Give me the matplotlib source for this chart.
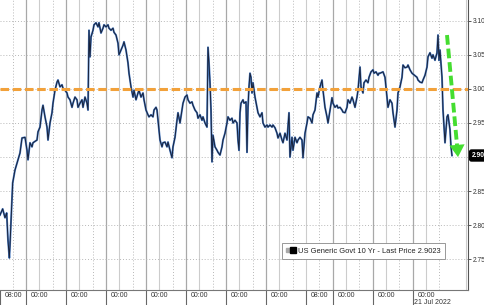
import matplotlib.pyplot as plt
from matplotlib.lines import Line2D
from matplotlib.legend_handler import HandlerTuple
from matplotlib import transforms

plt.rcParams['font.family'] = ['Liberation Sans', 'DejaVu Sans']

# chart time in hours since the first 08:00 (weekend gap squeezed out)
times = [
    0.4, 2.0, 3.4, 4.4, 5.2, 6.0, 6.4, 7.4, 8.0, 9.4, 11.2, 12.4, 13.6, 15.4,
    16.6, 17.2, 18.4, 19.6, 20.2, 22.6, 23.2, 24.4, 25.6, 26.2, 27.4, 28.6, 29.2, 30.4, 31.6, 32.2,
    33.4, 34.6, 35.2, 36.4, 37.6, 38.2, 39.4, 40.6, 41.2, 42.4, 43.6, 44.2, 45.4, 46.6, 47.2, 48.4, 49.6, 50.2, 51.4, 52.6, 53.2,
    53.8, 54.4, 55.0, 56.2, 56.8, 58.0, 59.2, 59.8, 61.0, 62.2, 62.8, 64.0, 65.2, 65.8, 67.0, 68.2, 68.8, 70.0,
    71.2, 71.8, 73.0, 74.2, 74.8, 76.0, 77.2, 77.8, 79.0, 80.2, 80.8, 82.0, 83.2, 83.8, 85.0, 86.2, 86.8, 88.0, 89.2, 89.8, 91.0, 92.2, 92.8, 94.0, 94.6, 95.2,
    96.4, 97.6, 98.2, 99.4, 100.6, 101.2, 102.4, 103.6, 104.2, 105.4, 106.6, 107.2, 108.4, 109.6, 110.2, 111.4, 112.6, 113.2, 114.4, 115.6, 116.2, 117.4, 118.6, 119.2, 120.4, 121.6, 122.2, 123.4, 124.6,
    125.2, 125.8, 126.4, 127.0, 127.6, 128.2, 129.4, 130.6, 131.2, 132.4, 133.6, 134.2, 135.4, 136.6, 137.2, 138.4, 139.6, 140.2, 141.4, 142.6, 143.2, 143.8,
    144.4, 145.0, 146.2, 146.8, 148.0, 148.6, 149.2, 149.8, 150.4, 151.0, 151.6, 152.2, 153.4, 154.6, 155.2, 156.4, 157.6, 158.2,
    159.4, 160.6, 161.2, 162.4, 163.6, 164.2, 165.4, 166.6, 167.2, 168.4, 169.6, 170.2, 171.4, 172.6, 173.2, 173.8, 174.4, 175.6, 176.2, 177.4, 178.6, 179.2, 180.4, 181.6, 182.2,
    183.4, 184.6, 185.2, 186.4, 187.6, 188.2, 189.4, 190.6, 191.2, 192.4, 193.6, 194.2, 195.4, 196.6, 197.2, 198.4, 199.6, 200.2,
    201.4, 202.6, 203.2, 204.4, 205.6, 206.2, 207.4, 208.6, 209.2, 210.4, 211.6, 212.2, 213.4, 214.6, 215.2,
    216.4, 217.0, 218.2, 218.8, 220.0, 221.2, 221.8, 223.0, 224.2, 224.8, 226.0, 227.2, 227.8, 228.4, 230.2, 231.4,
    232.6, 233.2, 234.4, 235.6, 236.2, 237.4, 238.6, 239.2, 240.4, 241.6, 242.2, 243.4, 244.6, 245.2, 246.4, 247.6,
    250.6, 251.2, 252.4, 253.6, 254.2, 255.4, 256.6, 257.2, 258.4, 259.6, 260.2, 261.4, 262.6, 263.2, 263.8, 264.4, 265.6, 266.2, 267.4, 268.6, 269.2, 270.4, 271.0, 271.6,
]
yields = [
    2.815, 2.824, 2.811, 2.818, 2.778, 2.752, 2.771, 2.827, 2.862, 2.881, 2.896, 2.906, 2.928, 2.929,
    2.910, 2.896, 2.921, 2.915, 2.921, 2.925, 2.937, 2.944, 2.969, 2.976, 2.959, 2.944, 2.925, 2.950, 2.965, 2.979,
    2.998, 3.010, 3.013, 3.003, 3.006, 3.001, 2.998, 2.994, 2.988, 2.984, 2.973, 2.979, 2.988, 2.984, 2.973, 2.979, 2.984, 2.973, 2.988, 2.979, 2.969,
    3.086, 3.047, 3.076, 3.086, 3.094, 3.097, 3.091, 3.097, 3.082, 3.089, 3.094, 3.091, 3.094, 3.089, 3.086, 3.089, 3.083, 3.079,
    3.067, 3.050, 3.057, 3.064, 3.069, 3.057, 3.038, 3.023, 3.003, 2.988, 2.998, 2.984, 2.994, 2.998, 2.988, 2.994, 2.984, 2.969, 2.962, 2.959, 2.962, 2.959, 2.969, 2.973, 2.969, 2.954,
    2.925, 2.915, 2.921, 2.922, 2.915, 2.922, 2.910, 2.899, 2.915, 2.929, 2.954, 2.965, 2.950, 2.969, 2.979, 2.988, 2.991, 2.984, 2.979, 2.981, 2.976, 2.969, 2.965, 2.957, 2.962, 2.954, 2.959, 2.950, 2.944,
    3.061, 3.038, 3.009, 2.969, 2.893, 2.932, 2.915, 2.910, 2.907, 2.903, 2.915, 2.925, 2.935, 2.950, 2.959, 2.954, 2.957, 2.950, 2.954, 2.950, 2.925, 2.910,
    2.965, 2.979, 2.984, 2.979, 2.981, 2.907, 2.973, 3.003, 3.023, 3.017, 2.994, 3.009, 2.988, 2.973, 2.965, 2.959, 2.965, 2.950,
    2.944, 2.947, 2.944, 2.947, 2.944, 2.947, 2.943, 2.935, 2.928, 2.935, 2.925, 2.921, 2.935, 2.925, 2.944, 2.965, 2.900, 2.929, 2.910, 2.929, 2.921, 2.925, 2.929, 2.925, 2.899,
    2.935, 2.950, 2.959, 2.957, 2.950, 2.962, 2.969, 2.994, 2.988, 3.003, 3.013, 2.998, 2.973, 2.959, 2.950, 2.969, 2.987, 2.979,
    2.973, 2.976, 2.972, 2.973, 2.969, 2.966, 2.965, 2.973, 2.984, 2.979, 2.988, 2.984, 2.973, 2.988, 2.998,
    3.032, 3.003, 2.994, 3.009, 3.013, 3.009, 3.017, 3.025, 3.028, 3.023, 3.025, 3.020, 3.023, 3.023, 3.025, 3.017,
    2.988, 2.973, 2.984, 2.979, 2.965, 2.944, 2.969, 2.994, 3.003, 3.017, 3.035, 3.031, 3.032, 3.035, 3.028, 3.023,
    3.017, 3.013, 3.010, 3.009, 3.013, 3.020, 3.032, 3.047, 3.053, 3.045, 3.050, 3.042, 3.053, 3.079, 3.042, 3.057, 3.017, 2.969, 2.921, 2.959, 2.962, 2.940, 2.915, 2.9023,
]
last_price = 2.9023
ref_level = 3.00

tick_hours = [0.4, 16, 40, 64, 88, 112, 136, 160, 184, 200, 224, 248]
tick_labels = ['08:00', '00:00', '00:00', '00:00', '00:00', '00:00', '00:00',
               '00:00', '08:00', '00:00', '00:00', '00:00']
date_label = '21 Jul 2022'
midnight_hours = [16, 40, 64, 88, 112, 136, 160, 200, 224, 248]
morning_hours = [24, 48, 72, 96, 120, 144, 168, 184, 208, 232, 256, 280]
afternoon_hours = [8, 32, 56, 80, 104, 128, 152, 176, 192, 216, 240, 264]
y_ticks = [2.75, 2.80, 2.85, 2.90, 2.95, 3.00, 3.05, 3.10]
legend_label = 'US Generic Govt 10 Yr - Last Price 2.9023'

# arrow drawn by hand on the original chart
arrow_start = (268.6, 3.079)
arrow_base = (274.7, 2.915)
arrow_tip = (275.2, 2.900)

fig = plt.figure(figsize=(4.85, 3.05), dpi=100)
ax = fig.add_axes([0, 15 / 305, 468 / 485, 290 / 305])
ax.set_xlim(0.4, 281.2)
ax.set_ylim(2.705, 3.1304)

# grid
for h in midnight_hours:
    ax.axvline(h, color='#a8a8a8', lw=0.9, zorder=1)
for h in morning_hours:
    ax.axvline(h, color='#cccccc', lw=0.8, zorder=1)
for h in afternoon_hours:
    ax.axvline(h, color='#b8b8b8', lw=0.7, ls=(0, (1, 2)), zorder=1)
for v in y_ticks:
    ax.axhline(v, color='#b8b8b8', lw=0.7, ls=(0, (1, 2)), zorder=1)

# price line
ax.plot(times, yields, color='#4a7cc4', lw=1.4, solid_joinstyle='round', zorder=3)
ax.plot(times, yields, color='#18223a', lw=0.7, zorder=4)

ax.axhline(ref_level, color='#f2a13a', lw=2.2, dashes=(2.8, 1.2), zorder=5)

green = '#45dd30'
ax.plot([arrow_start[0], arrow_base[0]], [arrow_start[1], arrow_base[1]],
        color=green, lw=2.8, dashes=(2.5, 1.0), zorder=6)
ax.annotate('', xy=arrow_tip, xytext=arrow_base,
            arrowprops=dict(arrowstyle='-|>,head_length=0.8,head_width=0.5',
                            color=green, lw=0, mutation_scale=11,
                            shrinkA=0, shrinkB=0), zorder=6)

# axes styling
for side in ['left', 'top']:
    ax.spines[side].set_visible(False)
ax.spines['right'].set_color('#555555')
ax.spines['right'].set_linewidth(0.8)
ax.spines['bottom'].set_color('#777777')
ax.spines['bottom'].set_linewidth(0.8)

ax.yaxis.tick_right()
ax.set_yticks(y_ticks)
ax.set_yticklabels(['' if abs(v - 2.90) < 1e-9 else '%.2f' % v for v in y_ticks])
ax.tick_params(axis='y', length=2.5, width=0.7, pad=0.8, labelsize=4.8, colors='#555555',
               labelcolor='#333333')

ax.set_xticks(tick_hours)
ax.tick_params(axis='x', length=11, width=0.8, colors='#666666', labelbottom=False)

base = transforms.blended_transform_factory(ax.transData, ax.transAxes)
lab_tr = transforms.offset_copy(base, fig=fig, x=3.5, y=-3.8, units='points')
for h, lab in zip(tick_hours, tick_labels):
    ax.text(h, 0, lab, transform=lab_tr, ha='left', va='center', fontsize=5,
            color='#333333', clip_on=False)
date_tr = transforms.offset_copy(base, fig=fig, x=1, y=-9, units='points')
ax.text(tick_hours[-1], 0, date_label, transform=date_tr, ha='left', va='center',
        fontsize=5, color='#333333', clip_on=False)

# last price tag
tag_tr = transforms.offset_copy(
    transforms.blended_transform_factory(ax.transAxes, ax.transData),
    fig=fig, x=2.6, y=0, units='points')
ax.text(1.0, last_price, '%.2f' % last_price, transform=tag_tr, ha='left', va='center',
        fontsize=4.8, color='white', fontweight='bold', clip_on=False, zorder=10,
        bbox=dict(boxstyle='round,pad=0.3', fc='black', ec='black'))

# legend
h1 = Line2D([], [], ls='', marker='s', markersize=2.5, color='#aaaaaa')
h2 = Line2D([], [], ls='', marker='s', markersize=4, color='black')
leg = ax.legend([(h1, h2)], [legend_label],
                handler_map={tuple: HandlerTuple(ndivide=None, pad=0.1)},
                loc='lower left', bbox_to_anchor=(0.602, 0.108), fontsize=5.4,
                frameon=True, fancybox=False, edgecolor='#888888', framealpha=1,
                borderpad=0.55, handlelength=1.3, handletextpad=0.3, borderaxespad=0)
leg.get_frame().set_linewidth(0.6)
for t in leg.get_texts():
    t.set_color('#222222')

fig.savefig('out.png', dpi=100)
